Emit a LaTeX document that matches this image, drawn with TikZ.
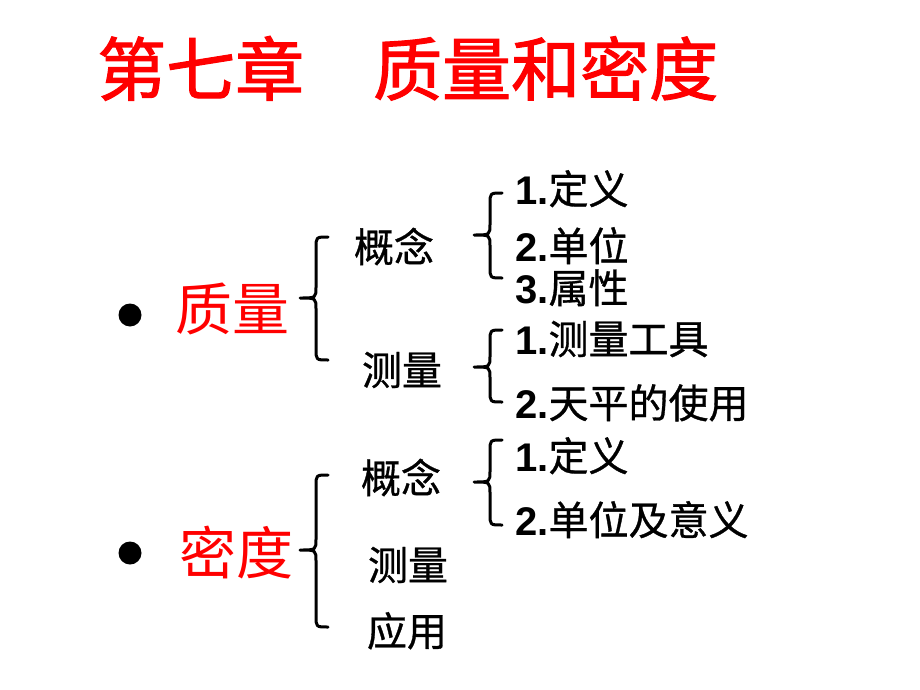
\documentclass[tikz,border=0pt]{standalone}
\usepackage{fontspec}
\setmainfont{Liberation Sans}
\newfontfamily\cjk{Noto Sans CJK SC}
\newfontfamily\cjkh{Noto Sans CJK SC}[FakeBold=0.8]
\newfontfamily\cjkt{Noto Sans CJK SC}[FakeBold=1.6]
\definecolor{titlered}{RGB}{255,0,0}
\tikzset{
  ttl/.style={anchor=base west, inner sep=0pt, text=titlered, font=\cjkt\fontsize{69}{69}\selectfont},
  topic/.style={anchor=base, inner sep=0pt, text=titlered, font=\cjk\fontsize{57}{57}\selectfont},
  sub/.style={anchor=base, inner sep=0pt, font=\cjkh\fontsize{40}{40}\selectfont},
  item/.style={anchor=base west, inner sep=0pt, font=\fontsize{40}{40}\selectfont},
  brc/.style={line width=3pt, line cap=round, line join=round},
  dot/.style={circle, fill=black, inner sep=0pt, minimum size=23pt}
}
\newcommand{\mybrc}[4]{% tip x, top y, mid y, bottom y
  \draw[brc] (#1,#2) .. controls ({#1-12},#2) .. ({#1-12},{#2+11}) -- ({#1-12},{#3-11})
    .. controls ({#1-12},#3) .. ({#1-28},#3) .. controls ({#1-12},#3) .. ({#1-12},{#3+11})
    -- ({#1-12},{#4-11}) .. controls ({#1-12},#4) .. (#1,#4);}
\newcommand{\itm}[2]{\textbf{#1}{\cjkh #2}}
\begin{document}
\begin{tikzpicture}[x=1pt,y=-1pt]
\fill[white] (0,0) rectangle (920,690);
\useasboundingbox (0,0) rectangle (920,690);
\node[ttl] (title) at (97,95) {第七章　质量和密度};
% mass
\node[dot] (b1) at (130,315) {};
\node[topic] (mass) at (232,330) {质量};
\mybrc{328}{237}{298}{360}
\node[sub] (m1) at (394,262) {概念};
\node[sub] (m2) at (402,385) {测量};
\mybrc{502}{193}{235}{278}
\node[item] (m11) at (515,204) {\itm{1.}{定义}};
\node[item] (m12) at (515,261) {\itm{2.}{单位}};
\node[item] (m13) at (515,303) {\itm{3.}{属性}};
\mybrc{502}{330}{367}{402}
\node[item] (m21) at (515,354) {\itm{1.}{测量工具}};
\node[item] (m22) at (515,418) {\itm{2.}{天平的使用}};
% density
\node[dot] (b2) at (130,553) {};
\node[topic] (dens) at (236,574) {密度};
\mybrc{328}{475}{550}{627}
\node[sub] (d1) at (401,493) {概念};
\node[sub] (d2) at (408,580) {测量};
\node[sub] (d3) at (407,646) {应用};
\mybrc{502}{440}{482}{525}
\node[item] (d11) at (515,471) {\itm{1.}{定义}};
\node[item] (d12) at (515,535) {\itm{2.}{单位及意义}};
\end{tikzpicture}
\end{document}
